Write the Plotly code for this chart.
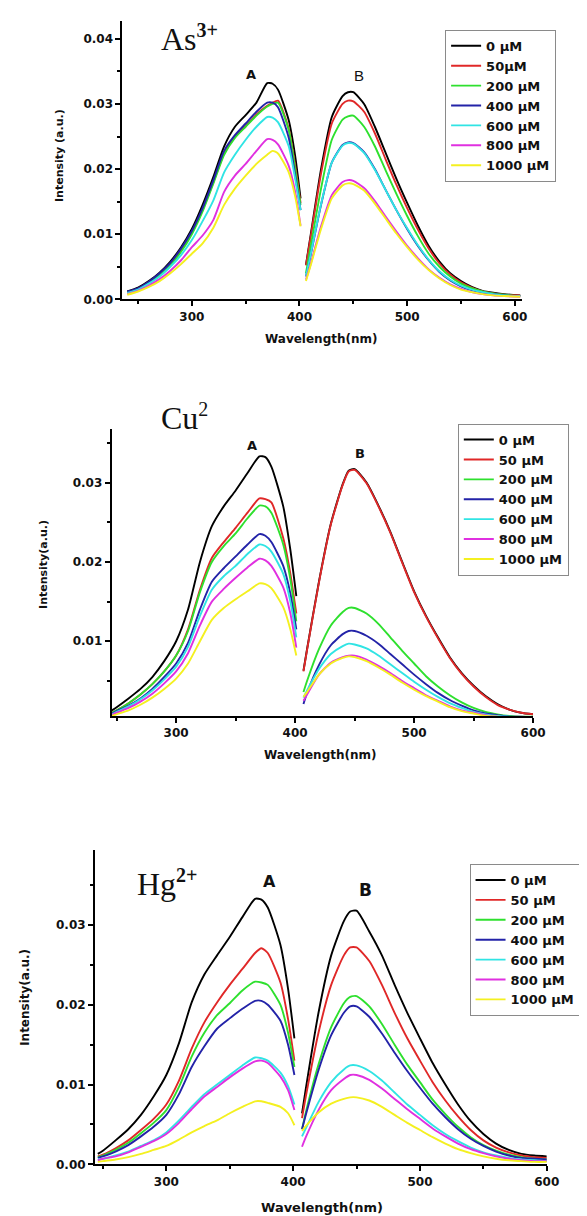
import plotly.graph_objects as go

W, H = 587, 1216

# ---------------- data ----------------
conc = ["0", "50", "200", "400", "600", "800", "1000"]
colors = ["#000000", "#e02828", "#2ee02e", "#2323a8", "#30e4e4", "#e030e0", "#f4f020"]
legend_as = ["0 µM", "50µM", "200 µM", "400 µM", "600 µM", "800 µM", "1000 µM"]
legend_cu = ["0 µM", "50 µM", "200 µM", "400 µM", "600 µM", "800 µM", "1000 µM"]
legend_hg = ["0 µM", "50 µM", "200 µM", "400 µM", "600 µM", "800 µM", "1000 µM"]

wl_A_as = [240, 250, 260, 270, 280, 290, 300, 310, 320, 330, 340, 350, 360, 370, 375, 380, 390, 396, 401]
wl_A = [246, 250, 260, 270, 280, 290, 300, 310, 320, 330, 340, 350, 360, 370, 375, 380, 390, 396, 401]
wl_B_as = [406, 410, 420, 430, 440, 445, 450, 460, 470, 480, 490, 500, 510, 520, 530, 540, 550, 560, 570, 580, 590, 605]
wl_B = [407, 410, 420, 430, 440, 445, 450, 460, 470, 480, 490, 500, 510, 520, 530, 540, 550, 560, 570, 580, 590, 600]

# As3+ band A
as_A_0 = [0.0012, 0.0018, 0.0028, 0.0041, 0.0058, 0.0080, 0.0108, 0.0145, 0.0188, 0.0235, 0.0265, 0.0283, 0.0302, 0.0332, 0.0331, 0.0322, 0.0275, 0.0220, 0.0155]
as_A_50 = [0.0011, 0.0016, 0.0026, 0.0038, 0.0054, 0.0075, 0.0102, 0.0138, 0.0180, 0.0224, 0.0250, 0.0266, 0.0284, 0.0297, 0.0302, 0.0305, 0.0262, 0.0205, 0.0148]
as_A_200 = [0.0010, 0.0015, 0.0025, 0.0037, 0.0052, 0.0073, 0.0100, 0.0135, 0.0178, 0.0222, 0.0248, 0.0265, 0.0282, 0.0296, 0.0300, 0.0302, 0.0260, 0.0200, 0.0145]
as_A_400 = [0.0012, 0.0017, 0.0027, 0.0040, 0.0056, 0.0078, 0.0105, 0.0140, 0.0183, 0.0228, 0.0252, 0.0270, 0.0288, 0.0302, 0.0302, 0.0295, 0.0248, 0.0190, 0.0137]
as_A_600 = [0.0010, 0.0015, 0.0024, 0.0035, 0.0050, 0.0068, 0.0091, 0.0120, 0.0152, 0.0195, 0.0222, 0.0245, 0.0265, 0.0280, 0.0279, 0.0272, 0.0235, 0.0185, 0.0137]
as_A_800 = [0.0008, 0.0013, 0.0021, 0.0031, 0.0044, 0.0060, 0.0080, 0.0098, 0.0122, 0.0165, 0.0190, 0.0208, 0.0228, 0.0246, 0.0245, 0.0238, 0.0205, 0.0165, 0.0113]
as_A_1000 = [0.0007, 0.0012, 0.0019, 0.0028, 0.0040, 0.0054, 0.0070, 0.0086, 0.0110, 0.0145, 0.0170, 0.0190, 0.0208, 0.0222, 0.0228, 0.0224, 0.0195, 0.0158, 0.0112]
# As3+ band B
as_B_0 = [0.0053, 0.0095, 0.0200, 0.0280, 0.0312, 0.0318, 0.0318, 0.0300, 0.0265, 0.0225, 0.0185, 0.0148, 0.0113, 0.0082, 0.0058, 0.0040, 0.0028, 0.0019, 0.0013, 0.0010, 0.0008, 0.0006]
as_B_50 = [0.0052, 0.0092, 0.0193, 0.0270, 0.0300, 0.0305, 0.0304, 0.0288, 0.0255, 0.0215, 0.0176, 0.0140, 0.0107, 0.0078, 0.0055, 0.0038, 0.0026, 0.0018, 0.0012, 0.0009, 0.0007, 0.0006]
as_B_200 = [0.0040, 0.0078, 0.0170, 0.0245, 0.0276, 0.0281, 0.0282, 0.0265, 0.0235, 0.0198, 0.0162, 0.0128, 0.0097, 0.0070, 0.0050, 0.0035, 0.0024, 0.0017, 0.0012, 0.0009, 0.0007, 0.0005]
as_B_400 = [0.0035, 0.0065, 0.0145, 0.0210, 0.0237, 0.0241, 0.0240, 0.0226, 0.0200, 0.0168, 0.0137, 0.0108, 0.0082, 0.0060, 0.0042, 0.0029, 0.0020, 0.0014, 0.0010, 0.0008, 0.0006, 0.0005]
as_B_600 = [0.0036, 0.0066, 0.0146, 0.0210, 0.0236, 0.0240, 0.0239, 0.0225, 0.0199, 0.0168, 0.0137, 0.0109, 0.0083, 0.0061, 0.0043, 0.0030, 0.0021, 0.0015, 0.0011, 0.0008, 0.0006, 0.0005]
as_B_800 = [0.0030, 0.0052, 0.0112, 0.0160, 0.0180, 0.0183, 0.0182, 0.0171, 0.0151, 0.0127, 0.0104, 0.0082, 0.0063, 0.0046, 0.0033, 0.0023, 0.0016, 0.0011, 0.0008, 0.0006, 0.0005, 0.0004]
as_B_1000 = [0.0028, 0.0050, 0.0108, 0.0155, 0.0175, 0.0178, 0.0177, 0.0167, 0.0147, 0.0124, 0.0101, 0.0080, 0.0061, 0.0045, 0.0032, 0.0022, 0.0015, 0.0011, 0.0008, 0.0006, 0.0005, 0.0004]

# Cu2+ band A
cu_A_0 = [0.0013, 0.0017, 0.0028, 0.0040, 0.0055, 0.0075, 0.0100, 0.0140, 0.0200, 0.0245, 0.0270, 0.0290, 0.0312, 0.0333, 0.0332, 0.0320, 0.0270, 0.0215, 0.0157]
cu_A_50 = [0.0010, 0.0013, 0.0022, 0.0033, 0.0046, 0.0062, 0.0082, 0.0115, 0.0165, 0.0205, 0.0225, 0.0243, 0.0262, 0.0280, 0.0279, 0.0275, 0.0230, 0.0185, 0.0135]
cu_A_200 = [0.0010, 0.0013, 0.0022, 0.0033, 0.0046, 0.0062, 0.0082, 0.0113, 0.0162, 0.0200, 0.0220, 0.0236, 0.0255, 0.0271, 0.0270, 0.0262, 0.0222, 0.0178, 0.0125]
cu_A_400 = [0.0009, 0.0012, 0.0019, 0.0028, 0.0040, 0.0055, 0.0072, 0.0098, 0.0140, 0.0175, 0.0192, 0.0207, 0.0222, 0.0235, 0.0233, 0.0225, 0.0195, 0.0160, 0.0115]
cu_A_600 = [0.0008, 0.0011, 0.0018, 0.0027, 0.0038, 0.0052, 0.0068, 0.0093, 0.0132, 0.0165, 0.0182, 0.0195, 0.0210, 0.0222, 0.0220, 0.0213, 0.0185, 0.0150, 0.0105]
cu_A_800 = [0.0007, 0.0010, 0.0016, 0.0024, 0.0034, 0.0047, 0.0062, 0.0085, 0.0120, 0.0150, 0.0166, 0.0180, 0.0193, 0.0204, 0.0202, 0.0195, 0.0168, 0.0135, 0.0092]
cu_A_1000 = [0.0006, 0.0008, 0.0013, 0.0020, 0.0029, 0.0040, 0.0053, 0.0072, 0.0100, 0.0127, 0.0142, 0.0153, 0.0163, 0.0173, 0.0172, 0.0167, 0.0143, 0.0115, 0.0082]
# Cu2+ band B
cu_B_0 = [0.0063, 0.0090, 0.0175, 0.0248, 0.0298, 0.0315, 0.0317, 0.0300, 0.0271, 0.0238, 0.0200, 0.0163, 0.0132, 0.0105, 0.0080, 0.0060, 0.0044, 0.0031, 0.0021, 0.0014, 0.0010, 0.0008]
cu_B_50 = [0.0062, 0.0089, 0.0174, 0.0247, 0.0297, 0.0314, 0.0316, 0.0299, 0.0270, 0.0237, 0.0199, 0.0162, 0.0131, 0.0104, 0.0079, 0.0059, 0.0043, 0.0030, 0.0020, 0.0014, 0.0010, 0.0008]
cu_B_200 = [0.0036, 0.0050, 0.0090, 0.0120, 0.0137, 0.0142, 0.0142, 0.0135, 0.0122, 0.0105, 0.0088, 0.0072, 0.0056, 0.0043, 0.0032, 0.0023, 0.0016, 0.0011, 0.0008, 0.0006, 0.0005, 0.0005]
cu_B_400 = [0.0021, 0.0035, 0.0070, 0.0095, 0.0109, 0.0113, 0.0113, 0.0107, 0.0097, 0.0084, 0.0071, 0.0058, 0.0046, 0.0035, 0.0026, 0.0019, 0.0013, 0.0009, 0.0007, 0.0005, 0.0005, 0.0004]
cu_B_600 = [0.0029, 0.0038, 0.0065, 0.0084, 0.0094, 0.0097, 0.0096, 0.0091, 0.0082, 0.0071, 0.0060, 0.0049, 0.0039, 0.0030, 0.0022, 0.0016, 0.0011, 0.0008, 0.0006, 0.0005, 0.0004, 0.0004]
cu_B_800 = [0.0025, 0.0033, 0.0058, 0.0073, 0.0080, 0.0082, 0.0082, 0.0077, 0.0069, 0.0060, 0.0050, 0.0041, 0.0032, 0.0025, 0.0018, 0.0013, 0.0010, 0.0007, 0.0005, 0.0004, 0.0004, 0.0003]
cu_B_1000 = [0.0030, 0.0036, 0.0058, 0.0072, 0.0079, 0.0081, 0.0080, 0.0075, 0.0067, 0.0058, 0.0048, 0.0039, 0.0031, 0.0024, 0.0017, 0.0012, 0.0009, 0.0006, 0.0005, 0.0004, 0.0003, 0.0003]

# Hg2+ band A
hg_A_0 = [0.0013, 0.0017, 0.0030, 0.0044, 0.0062, 0.0085, 0.0112, 0.0152, 0.0203, 0.0238, 0.0262, 0.0285, 0.0310, 0.0333, 0.0332, 0.0322, 0.0275, 0.0220, 0.0158]
hg_A_50 = [0.0010, 0.0012, 0.0020, 0.0030, 0.0043, 0.0057, 0.0075, 0.0105, 0.0145, 0.0178, 0.0203, 0.0225, 0.0245, 0.0265, 0.0271, 0.0265, 0.0228, 0.0182, 0.0130]
hg_A_200 = [0.0009, 0.0011, 0.0018, 0.0027, 0.0039, 0.0052, 0.0068, 0.0097, 0.0135, 0.0165, 0.0187, 0.0202, 0.0218, 0.0229, 0.0228, 0.0225, 0.0200, 0.0165, 0.0122]
hg_A_400 = [0.0008, 0.0010, 0.0016, 0.0024, 0.0035, 0.0047, 0.0062, 0.0088, 0.0122, 0.0148, 0.0170, 0.0183, 0.0195, 0.0205, 0.0205, 0.0200, 0.0180, 0.0150, 0.0112]
hg_A_600 = [0.0006, 0.0007, 0.0011, 0.0016, 0.0023, 0.0030, 0.0040, 0.0055, 0.0072, 0.0088, 0.0100, 0.0112, 0.0124, 0.0134, 0.0133, 0.0130, 0.0115, 0.0098, 0.0075]
hg_A_800 = [0.0005, 0.0007, 0.0010, 0.0015, 0.0022, 0.0029, 0.0038, 0.0052, 0.0069, 0.0085, 0.0097, 0.0109, 0.0120, 0.0129, 0.0130, 0.0127, 0.0110, 0.0093, 0.0068]
hg_A_1000 = [0.0003, 0.0004, 0.0006, 0.0009, 0.0013, 0.0018, 0.0023, 0.0031, 0.0040, 0.0048, 0.0055, 0.0064, 0.0072, 0.0079, 0.0079, 0.0077, 0.0072, 0.0064, 0.0049]
# Hg2+ band B
hg_B_0 = [0.0064, 0.0095, 0.0190, 0.0262, 0.0305, 0.0317, 0.0318, 0.0292, 0.0262, 0.0225, 0.0190, 0.0158, 0.0127, 0.0100, 0.0075, 0.0054, 0.0038, 0.0026, 0.0018, 0.0013, 0.0011, 0.0010]
hg_B_50 = [0.0058, 0.0085, 0.0165, 0.0225, 0.0262, 0.0272, 0.0272, 0.0255, 0.0225, 0.0190, 0.0158, 0.0130, 0.0103, 0.0080, 0.0060, 0.0043, 0.0030, 0.0021, 0.0015, 0.0011, 0.0009, 0.0008]
hg_B_200 = [0.0044, 0.0065, 0.0125, 0.0172, 0.0202, 0.0210, 0.0211, 0.0198, 0.0176, 0.0150, 0.0125, 0.0103, 0.0081, 0.0063, 0.0047, 0.0034, 0.0024, 0.0017, 0.0012, 0.0009, 0.0007, 0.0006]
hg_B_400 = [0.0044, 0.0062, 0.0118, 0.0162, 0.0190, 0.0198, 0.0198, 0.0185, 0.0164, 0.0140, 0.0117, 0.0096, 0.0076, 0.0059, 0.0044, 0.0032, 0.0023, 0.0016, 0.0011, 0.0008, 0.0007, 0.0006]
hg_B_600 = [0.0035, 0.0045, 0.0078, 0.0103, 0.0119, 0.0124, 0.0124, 0.0117, 0.0105, 0.0090, 0.0075, 0.0062, 0.0049, 0.0038, 0.0029, 0.0021, 0.0015, 0.0011, 0.0008, 0.0006, 0.0005, 0.0004]
hg_B_800 = [0.0022, 0.0034, 0.0068, 0.0093, 0.0107, 0.0112, 0.0112, 0.0106, 0.0095, 0.0082, 0.0069, 0.0057, 0.0045, 0.0035, 0.0026, 0.0019, 0.0014, 0.0010, 0.0007, 0.0005, 0.0004, 0.0004]
hg_B_1000 = [0.0042, 0.0048, 0.0065, 0.0076, 0.0082, 0.0084, 0.0084, 0.0080, 0.0072, 0.0062, 0.0052, 0.0043, 0.0034, 0.0026, 0.0019, 0.0014, 0.0010, 0.0007, 0.0005, 0.0004, 0.0003, 0.0003]

x_ticks = [300, 400, 500, 600]

# ---------------- layout helpers ----------------
def px_x(p):
    return p / W

def px_y(p):
    return 1 - p / H

panels = [
    dict(name="as", xa="x", ya="y", lg="legend",
         A=[as_A_0, as_A_50, as_A_200, as_A_400, as_A_600, as_A_800, as_A_1000],
         B=[as_B_0, as_B_50, as_B_200, as_B_400, as_B_600, as_B_800, as_B_1000],
         wA=wl_A_as, wB=wl_B_as, labels=legend_as,
         xpx=(117, 526), ypx=(13, 293), xr=[235.5, 607], yr=[0.0, 0.04275],
         ytick=[0.0, 0.01, 0.02, 0.03, 0.04], leg=(447, 22)),
    dict(name="cu", xa="x2", ya="y2", lg="legend2",
         A=[cu_A_0, cu_A_50, cu_A_200, cu_A_400, cu_A_600, cu_A_800, cu_A_1000],
         B=[cu_B_0, cu_B_50, cu_B_200, cu_B_400, cu_B_600, cu_B_800, cu_B_1000],
         wA=wl_A, wB=wl_B, labels=legend_cu,
         xpx=(106, 537), ypx=(423, 712), xr=[245.8, 600], yr=[0.0006, 0.0368],
         ytick=[0.01, 0.02, 0.03], leg=(460, 418)),
    dict(name="hg", xa="x3", ya="y3", lg="legend3",
         A=[hg_A_0, hg_A_50, hg_A_200, hg_A_400, hg_A_600, hg_A_800, hg_A_1000],
         B=[hg_B_0, hg_B_50, hg_B_200, hg_B_400, hg_B_600, hg_B_800, hg_B_1000],
         wA=wl_A, wB=wl_B, labels=legend_hg,
         xpx=(89, 551), ypx=(847, 1163), xr=[243.8, 600], yr=[0.0, 0.0394],
         ytick=[0.0, 0.01, 0.02, 0.03], leg=(472, 861)),
]

fig = go.Figure()
tickfont = dict(family="DejaVu Sans", size=12, color="#111111", weight="bold")
layout = dict(width=W, height=H, margin=dict(l=0, r=0, t=0, b=0),
              paper_bgcolor="white", plot_bgcolor="white", showlegend=True)

for i, p in enumerate(panels):
    for k in range(7):
        fig.add_trace(go.Scatter(x=p["wA"], y=p["A"][k], mode="lines",
                                 line=dict(color=colors[k], width=1.9, shape="spline", smoothing=0.6),
                                 name=p["labels"][k], legend=p["lg"], legendgroup=p["name"] + conc[k],
                                 xaxis=p["xa"], yaxis=p["ya"], showlegend=True))
        fig.add_trace(go.Scatter(x=p["wB"], y=p["B"][k], mode="lines",
                                 line=dict(color=colors[k], width=1.9, shape="spline", smoothing=0.6),
                                 name=p["labels"][k], legend=p["lg"], legendgroup=p["name"] + conc[k],
                                 xaxis=p["xa"], yaxis=p["ya"], showlegend=False))
    sfx = "" if i == 0 else str(i + 1)
    layout["xaxis" + sfx] = dict(
        domain=[px_x(p["xpx"][0]), px_x(p["xpx"][1])], range=p["xr"], anchor="y" + sfx,
        showline=True, linecolor="black", linewidth=2, showgrid=False, zeroline=False,
        ticks="outside", ticklen=5, tickwidth=2, tickcolor="black",
        tickvals=x_ticks, tickfont=tickfont, ticklabelstandoff=0,
        minor=dict(ticks="outside", ticklen=3, tickwidth=1.5, tickcolor="black", dtick=50, tick0=0))
    layout["yaxis" + sfx] = dict(
        domain=[px_y(p["ypx"][1]), px_y(p["ypx"][0])], range=p["yr"], anchor="x" + sfx,
        showline=True, linecolor="black", linewidth=2, showgrid=False, zeroline=False,
        ticks="outside", ticklen=5, tickwidth=2, tickcolor="black",
        tickvals=p["ytick"], tickformat=".2f", tickfont=tickfont,
        minor=dict(ticks="outside", ticklen=3, tickwidth=1.5, tickcolor="black", dtick=0.005, tick0=0))
    layout[p["lg"]] = dict(x=px_x(p["leg"][0]), y=px_y(p["leg"][1]), xanchor="left", yanchor="top",
                           bgcolor="white", bordercolor="#8a8a8a", borderwidth=1,
                           font=dict(family="DejaVu Sans", size=13, color="#111111", weight="bold"),
                           itemwidth=30, tracegroupgap=0)

fig.update_layout(**layout)

def ann(text, xp, yp, size, family="DejaVu Sans", bold=True, angle=0, xanchor="center", yanchor="middle"):
    fig.add_annotation(text=text, x=px_x(xp), y=px_y(yp), xref="paper", yref="paper",
                       showarrow=False, textangle=angle, xanchor=xanchor, yanchor=yanchor,
                       font=dict(family=family, size=size, color="#111111",
                                 weight="bold" if bold else "normal"))

# ion labels
ann("As<sup><span style='font-size:20px'><b>3+</b></span></sup>", 154, 30, 32,
    family="Liberation Serif", bold=False, xanchor="left")
ann("Cu<sup><span style='font-size:20px'>2</span></sup>", 154, 411, 32,
    family="Liberation Serif", bold=False, xanchor="left")
ann("Hg<sup><span style='font-size:20px'><b>2+</b></span></sup>", 130, 880, 32,
    family="Liberation Serif", bold=False, xanchor="left")

# band labels
ann("A", 248, 67, 13)
ann("B", 359, 68, 15, family="Liberation Sans", bold=False)
ann("A", 250, 440, 13)
ann("B", 360, 448, 13)
ann("A", 267, 879, 16)
ann("B", 366, 887, 17)

# axis titles
ann("Intensity (a.u.)", 52, 148, 11, angle=-90)
ann("Intensity(a.u.)", 37, 560, 11, angle=-90)
ann("Intensity(a.u.)", 18, 995, 12, angle=-90)
ann("Wavelength(nm)", 321, 333, 12)
ann("Wavelength(nm)", 320, 751, 12)
ann("Wavelength(nm)", 321, 1206, 13)

fig.write_html("out.html")
